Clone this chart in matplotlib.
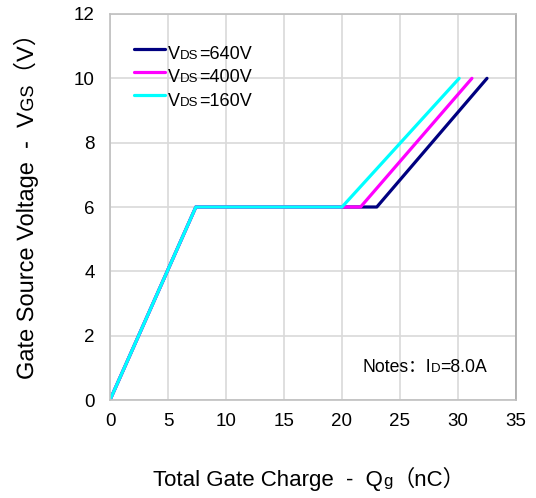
import matplotlib
matplotlib.use('Agg')
import matplotlib.pyplot as plt
from matplotlib.transforms import IdentityTransform, Affine2D
from matplotlib.font_manager import FontProperties
from matplotlib.textpath import TextPath
from matplotlib.patches import PathPatch

FAMILY = ['Liberation Sans', 'Noto Sans CJK SC']
plt.rcParams['font.family'] = FAMILY

# gate charge curves, breakpoints
vds_labels = ['=640V', '=400V', '=160V']
line_colors = ['#000080', '#FF00FF', '#00FFFF']
qg_640 = [0, 7.4, 23.0, 32.5]
qg_400 = [0, 7.4, 21.6, 31.2]
qg_160 = [0, 7.4, 20.0, 30.1]
vgs = [0, 6, 6, 10]

xticks = [0, 5, 10, 15, 20, 25, 30, 35]
yticks = [0, 2, 4, 6, 8, 10, 12]

W, H = 536, 498
fig = plt.figure(figsize=(W / 100, H / 100), dpi=100)
ax = fig.add_axes([110 / W, 98 / H, 406 / W, 386 / H])

lines = []
for q, c in zip([qg_640, qg_400, qg_160], line_colors):
    ln, = ax.plot(q, vgs, color=c, lw=2.3, solid_capstyle='round')
    lines.append(ln)

ax.set_xlim(0, 35)
ax.set_ylim(0, 12)
ax.set_xticks(xticks)
ax.set_yticks(yticks)
ax.tick_params(length=0, labelsize=13.5, colors='black')
ax.tick_params(axis='x', pad=9)
ax.tick_params(axis='y', pad=11)
ax.grid(True, color='#d9d9d9', lw=1.2)
ax.set_axisbelow(True)
for s in ax.spines.values():
    s.set_color('#c0c0c0')
    s.set_linewidth(1.2)
ax.spines['right'].set_color('#a8a8a8')

leg = ax.legend(lines, ['VDS' + v for v in vds_labels], loc='upper left',
                bbox_to_anchor=(134 / W, 1 - 42 / H), bbox_transform=fig.transFigure,
                frameon=False, fontsize=13, handlelength=1.72, handletextpad=0.17,
                labelspacing=0.35, borderpad=0, borderaxespad=0)
for t in leg.get_texts():
    t.set_alpha(0)

renderer = fig.canvas.get_renderer()


def rich(x, y, parts):
    # lay out text chunks of different sizes along one baseline (pixels)
    for s, size in parts:
        t = fig.text(x, y, s, fontsize=size, transform=IdentityTransform(),
                     ha='left', va='baseline')
        x += t.get_window_extent(renderer).width


def rich_vertical(x, y, parts):
    # same thing rotated 90 deg, drawn as glyph paths so baselines stay put
    for s, size in parts:
        prop = FontProperties(family=FAMILY, size=size)
        w, _, _ = renderer.get_text_width_height_descent(s, prop, ismath=False)
        tp = TextPath((0, 0), s, size=size * 100 / 72, prop=FontProperties(family=FAMILY))
        path = Affine2D().rotate_deg(90).translate(x, y).transform_path(tp)
        fig.add_artist(PathPatch(path, transform=IdentityTransform(), fc='black', lw=0))
        y += w


fig.canvas.draw()
for t, v in zip(leg.get_texts(), vds_labels):
    bb = t.get_window_extent(renderer)
    _, _, d = renderer.get_text_width_height_descent(t.get_text(), t.get_fontproperties(), ismath=False)
    rich(bb.x0, bb.y0 + d, [('V', 13), ('DS', 9.5), (v, 13)])

rich(153, H - 486, [('Total Gate Charge  -  Q', 16), ('g', 12), ('\uff08nC\uff09', 16)])
rich_vertical(33, H - 380, [('Gate Source Voltage  -  V', 17), ('GS', 13), ('\uff08V\uff09', 17)])
rich(362, H - 372, [('Notes\uff1aI', 12.7), ('D', 9.5), ('=8.0A', 12.7)])

fig.savefig('out.png', dpi=100)
